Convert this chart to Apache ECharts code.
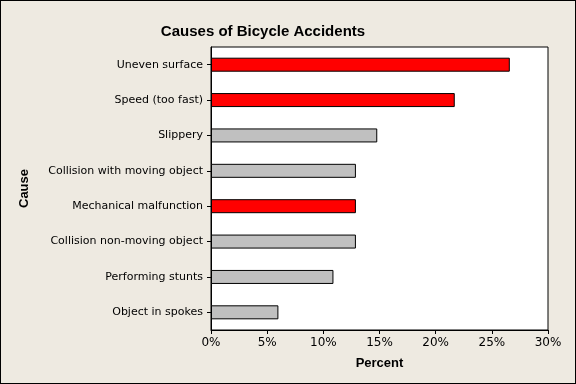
<!DOCTYPE html>
<html>
<head>
<meta charset="utf-8">
<script src="https://cdn.jsdelivr.net/npm/echarts@6/dist/echarts.min.js"></script>
<style>
html,body{margin:0;padding:0;background:#EEEAE1;}
#c{width:574px;height:382px;border:1px solid #000;}
</style>
</head>
<body>
<div id="c"></div>
<script>
const categories = ["Uneven surface","Speed (too fast)","Slippery","Collision with moving object","Mechanical malfunction","Collision non-moving object","Performing stunts","Object in spokes"];
const percents = [26.6, 21.7, 14.8, 12.9, 12.9, 12.9, 10.9, 6.0];
const highlighted = ["Uneven surface","Speed (too fast)","Mechanical malfunction"];
const xTicks = [0, 5, 10, 15, 20, 25, 30];

const chart = echarts.init(document.getElementById('c'), null, {renderer:'canvas'});
const font = '"DejaVu Sans", sans-serif';
const boldFont = '"Liberation Sans", Arial, sans-serif';
chart.setOption({
  backgroundColor: '#EEEAE1',
  animation: false,
  title: {
    text: 'Causes of Bicycle Accidents',
    left: 257, top: 18, textAlign: 'center',
    textStyle: {fontFamily: boldFont, fontSize: 15, fontWeight: 'bold', color: '#000'}
  },
  grid: {
    left: 210, top: 46, right: 27, bottom: 53,
    show: true, backgroundColor: '#fff', borderColor: '#000', borderWidth: 1,
    containLabel: false
  },
  xAxis: {
    type: 'value', min: xTicks[0], max: xTicks[xTicks.length-1], interval: 5,
    name: 'Percent', nameLocation: 'middle', nameGap: 27,
    nameTextStyle: {fontFamily: boldFont, fontSize: 13, fontWeight: 'bold', color: '#000'},
    axisLine: {show: true, lineStyle: {color: '#000'}},
    axisTick: {show: true, length: 4, lineStyle: {color: '#000'}},
    axisLabel: {fontFamily: font, fontSize: 12, color: '#000', margin: 7, formatter: v => v + '%'},
    splitLine: {show: false}
  },
  yAxis: {
    type: 'category', data: categories, inverse: true,
    name: 'Cause', nameLocation: 'middle', nameGap: 180, nameRotate: 90,
    nameTextStyle: {fontFamily: boldFont, fontSize: 13, fontWeight: 'bold', color: '#000'},
    axisLine: {show: true, lineStyle: {color: '#000'}},
    axisTick: {show: true, length: 4, alignWithLabel: true, lineStyle: {color: '#000'}},
    axisLabel: {fontFamily: font, fontSize: 11, color: '#000', margin: 8},
    splitLine: {show: false}
  },
  series: [{
    type: 'bar',
    data: percents,
    barWidth: 14,
    itemStyle: {
      borderColor: '#000', borderWidth: 1,
      color: p => highlighted.includes(categories[p.dataIndex]) ? '#FF0000' : '#C0C0C0'
    }
  }]
});
</script>
</body>
</html>
